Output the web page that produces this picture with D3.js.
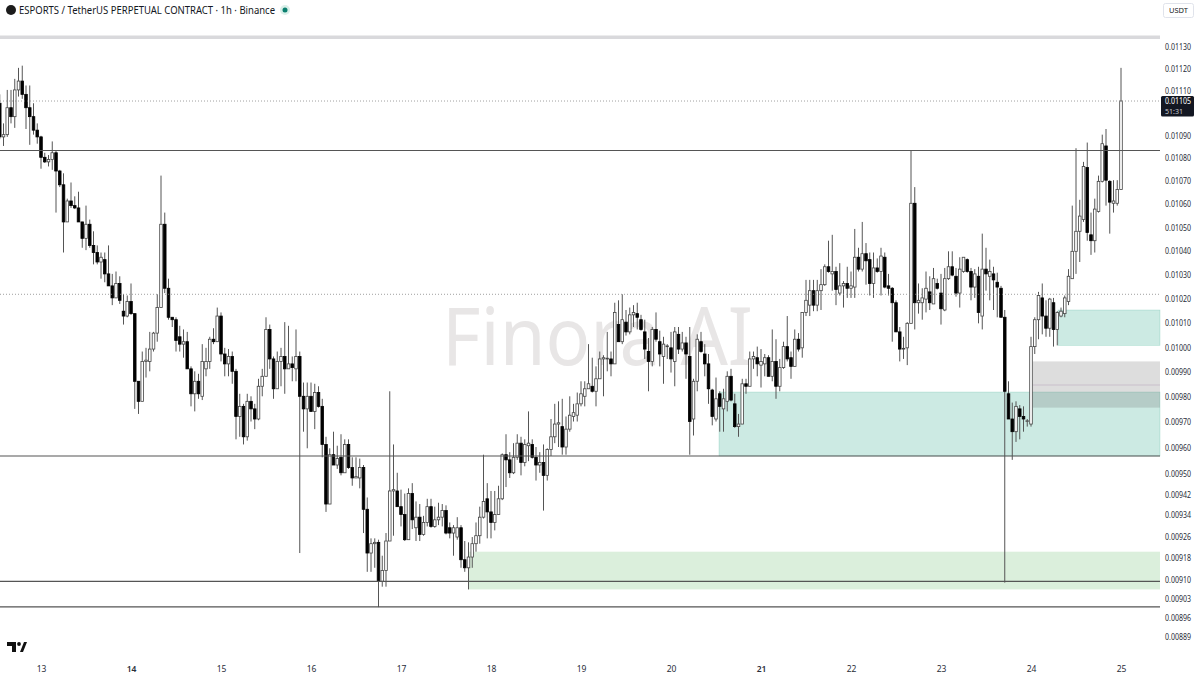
<!DOCTYPE html>
<html>
<head>
<meta charset="utf-8">
<script src="https://cdn.jsdelivr.net/npm/d3@7"></script>
<style>
  html, body { margin: 0; padding: 0; background: #fff; }
  svg { display: block; }
  text { font-family: "Noto Sans", sans-serif; }
</style>
</head>
<body>
<svg id="chart"></svg>
<script>
// prices are in units of 0.00001 USDT, one row per day (first row is the tail of the 12th)
const firstHour = -11;

const opens = [
  1104,1089,1090,1102,1098,1110,1114,1108,1102,1098,1092,
  1089,1080,1078,1079,1082,1074,1068,1052,1061,1059,1058,1052,1045,1051,1042,1039,1035,1036,1030,1025,1020,1026,1014.5,1012.5,
  1018.5,1013.5,986,978,994,994,999,1005.5,1016,1051,1024,1012,1011,1004,1001,1002,991,981,986,980,991,994,1003,1002,
  1012.5,997,993,996,990,972,976,964,978,975,971,984,988,1007,995,983,994,996,991,993,991,996,980,975,
  980,974,981.5,976,961,938,957,953,956,950,961,952,948,948,952,936,919.5,923,923.5,909,913,924,943,943,
  937,934,924.5,942,929,933,926.5,931,937,929.5,932,933,935.5,929,927,925.5,929,917,914,918,923,926,933,940,
  935,931,934,940,957,955,950,956,961.5,954,960.5,961,956,953,954,949,959,964,969,968,960,967,972,972.5,
  977,980,983,984,982,987,995,995,995,993,1009,1002,1010,1006,1013,1013.5,1011,1006,998,994,1007,1002,996,1000,
  999.5,994,1005,999,1001.5,996,971,986,1002,997,993,982.5,971,981,975,978,988,977,968,969,985,984,995,995.5,
  992.5,993,995.5,988,994,984,991.5,1000,995.5,992,1003,999.5,1014,1017,1023,1017,1023,1025.5,1033,1030,1031,1022,1025,1026,
  1024,1024.5,1037,1032,1038.5,1036,1026,1032.5,1031,1037,1025,1024,1018,1006,999,999.5,1009.5,1060,1018,1018,1019.5,1022.5,1017.5,1026,
  1022,1015,1028,1033,1029,1022,1031,1036,1031,1024.5,1029,1012.5,1032,1029,1030,1026.5,1024,1012,981,971,966,975,972,970,
  969,1000,1011,1020,1012.5,1007.5,1018,1007,1012.5,1013.5,1018.5,1028,1039.5,1048,1053,1075.5,1046.5,1044,1056.5,1069.5,1085,1069.5,1060,1060,
  1066
];
const highs = [
  1108,1095,1110,1110,1115,1120,1121,1112,1112,1104,1095,
  1089.5,1082,1081,1087,1083,1074.5,1073,1062,1069,1063,1065,1052,1059,1053,1048,1042,1039,1039,1042,1030,1031,1029,1021.5,1021,
  1026,1013.5,986,998,999.5,1006,1006,1021.5,1072,1056,1028,1012,1012,1008.5,1007,1006,992,990,989,1001,999.5,1004,1007.5,1016,
  1014,999.5,999,998,991,981,977,981,980,977,987,991,1012,1009,996,998,999.5,1010,1008.5,996,1007,998,985.5,985.5,
  985.5,985,984,979,964,959.5,966,960.5,965,963,963,956,956,955.5,953,940.5,925,925,924.5,918.5,927,982,961,950,
  943.5,942,944,946,939,938,933.5,940,940,937,938.5,938,937.5,931,930,933,930,924,923.5,925.5,931,937,957,946,
  943,943,945,957.5,965,958,961.5,965,964,963,974,963,960,958,961,959.5,971,977,978,979,972,980,977,981.5,
  986,986,1001,995.5,992,998,996.5,1006,998,1018,1019,1021.5,1015,1016,1017,1018,1013,1011,1003.5,1008,1014,1006.5,1004,1001,
  1006,1008,1008,1006,1004,1008,987,1005,1006,1001,997,983,987.5,982,983,990,991,981,973,987,987,998,998,1000,
  999,997,996.5,1007,1003,995,1002,1012.5,998,1007,1005.5,1014,1027.5,1027.5,1027.5,1027.5,1032,1034,1044,1046.5,1033,1034.5,1027,1033,
  1031,1049,1041,1052,1043,1039,1039,1036.5,1041,1039,1030,1024.5,1019,1008,1004,1010,1083,1067,1026,1024,1031,1029,1032.5,1028,
  1030,1032.5,1039.5,1039.5,1032.5,1037,1037,1036.5,1032.5,1032,1033,1047,1041,1036,1033,1030.5,1025,1015,986,977.5,978,976.5,976,971,
  1004,1012,1022.5,1026,1019,1020,1020,1014.5,1016,1021,1032,1059,1084,1061.5,1078,1086.5,1056,1062,1072,1090,1092.5,1070,1070,1070,
  1120
];
const lows = [
  1088,1085,1089,1095,1093,1107,1106,1092.5,1085.5,1090,1086,
  1075,1077.5,1076,1074.5,1056,1067,1039,1052,1058,1057.5,1052,1041,1040,1041,1034,1034,1028,1026.5,1025,1017,1020,1017.5,1009,1012,
  1013,975,973,978,987.5,990,998,1002,1016,1022,1011,1008,998,998,995.5,991,976,974,979,978.5,988,991,1001,1002,
  994,988,988,985,963,964,961,962.5,970,967,970.5,980,988,991,979,983,984,981,991,986,986,919.5,966,959.5,
  974,967,975.5,956,935,938,953,951.5,949,950,951.5,945,948,944,927,912.5,912.5,914,899.5,907,907,924,926,937,
  929.5,924,924.5,928.5,924,924,926,929.5,929,929,930,929.5,926.5,925,918.5,924.5,914,912.5,906,914,920,923,932.5,925,
  925,928,934,939.5,944.5,948,949.5,955,949,952.5,954.5,955.5,947,950,935.5,947,956.5,961.5,960,957,957,966,970,970,
  976,976,983,981.5,976,987,980,990,988,993,1002,1001,1004.5,1005,1008,1007,1006.5,995,982,992,1002,992,985,995,
  989.5,984,997,998,987,957,964.5,982,997.5,988,977,968.5,970,966,966,974,978,967.5,964,969,981,984,991,988,
  983.5,988,988,986,979,982,991,994,987,992,998,995.5,1012.5,1012.5,1014.5,1014.5,1015,1025,1030.5,1023,1017,1021,1016,1020,
  1020,1020,1031,1031,1025.5,1021,1020,1030.5,1021,1024,1021,1002,1006,994,995,992.5,1009.5,1007,1013.5,1011,1014,1015,1017.5,1023.5,
  1009,1014.5,1027.5,1029,1020.5,1016,1030.5,1030.5,1019,1020,1009.5,1007,1023,1019,1015,1012,1012,908.5,971,955,962,963,966,968,
  968,997,1003,1005,1004,1004,1000,1000.5,1012,1012,1017,1028,1030,1035,1052,1044,1038,1039,1056,1069,1059,1047,1056,1059,
  1066
];
const closes = [
  1089,1090,1102,1098,1110,1114,1108,1102,1098,1092,1089,
  1080,1078,1079,1082,1074,1068,1052,1061,1059,1058,1052,1045,1051,1042,1039,1035,1037,1030,1025,1020,1026,1019,1012.5,1018.5,
  1013.5,986,978,994,994.5,999,1005.5,1016,1051,1024,1012,1011,1002.5,1001,1002,991,981,986,981,994,994,1003,1002,1012.5,
  997,993,996,990,972,976,964,978,975,971,984,988,1007,995,983,994,996,991,993,991.5,996,980,975,980,
  974,981.5,976,961,938,957,953,955.5,950,961,952,948,948.5,952,936,919.5,923,923.5,909,913,924,943,943.5,937,
  934,924.5,942,932,933,926.5,931,937,929.5,932,933,935.5,927,927,929,929,917,914,918,923,926,933,939,935,
  931,934,940,957,955,950,956,961.5,954,961,961.5,956,953,954,949,959,964,969,969.5,960,967,972.5,973.5,977,
  981,983,985,982,987,995,995.5,995.3,993,1014,1002,1011,1006,1013,1014,1012,1007,999,994,1007,1003,997,1001,1000.3,
  995,1006,999,1001.5,997,970,986,1003,998,993,983,972,979,976,979,988,978.5,968,969,985,984,995,996,993,
  994,995.5,988,994,984,991.5,1000,995,992,1003,999,1014,1019,1023,1017,1023,1025.5,1033,1031,1031,1023.5,1025,1026,1024,
  1025,1037,1032,1038.5,1035.5,1026,1032.5,1031,1037.5,1024.5,1024,1018,1006,999,999.3,1009.5,1060,1018,1019,1020,1024,1018,1028,1024,
  1015.5,1028,1033,1029.5,1022,1032,1037,1031,1024.5,1030,1014,1032,1030,1031,1027.5,1024.5,1012,982,971,966,976,972,971,970.3,
  1000,1011,1021,1012.5,1007.5,1019.5,1007,1014,1014.5,1020,1029,1039.5,1048,1054.5,1076,1047.5,1044,1057.5,1069.5,1086,1070,1060.5,1061,1066,
  1105
];

const dayLabels = ["13", "14", "15", "16", "17", "18", "19", "20", "21", "22", "23", "24", "25"];
const boldDays = ["14", "21"];
const priceTicks = [1130, 1120, 1110, 1090, 1080, 1070, 1060, 1050, 1040, 1030, 1020, 1010, 1000, 990, 980, 970, 960, 950, 942, 934, 926, 918, 910, 903, 896, 889];
const solidLevels = [1083, 956.5, 909, 899.6];
const dottedLevels = [1105, 1021.5];
const ceilingLevel = 1134;
// drawn zones: hour it starts, top price, bottom price
const tealZones = [[180.8, 981.7, 956.5], [271.2, 1015, 1000.5]];
const greenZones = [[113.9, 920, 906]];
const greyZones = [[264.5, 994, 975.5]];
const greyMid = 984.5;
const lastPrice = "0.01105";
const countdown = "51:31";

const width = 1200, height = 675, paneRight = 1160;
const svg = d3.select("#chart").attr("width", width).attr("height", height);

const x = d3.scaleLinear().domain([0, 288]).range([41, 1121]);
const y = d3.scaleLog().domain([889, 1130]).range([636, 46]);

const candles = opens.map((o, i) => ({
  hour: firstHour + i, open: o, high: highs[i], low: lows[i], close: closes[i]
}));

// watermark goes under everything
svg.append("text")
  .attr("x", 442).attr("y", 365)
  .attr("font-size", 80).attr("font-weight", 400)
  .attr("textLength", 311).attr("lengthAdjust", "spacingAndGlyphs")
  .attr("fill", "#e8e6e6")
  .text("Finora AI");

const zoneLayer = svg.append("g");
function addZones(zones, fill, stroke) {
  zoneLayer.selectAll(null).data(zones).enter().append("rect")
    .attr("x", (d) => x(d[0]))
    .attr("y", (d) => y(d[1]))
    .attr("width", (d) => paneRight - x(d[0]))
    .attr("height", (d) => y(d[2]) - y(d[1]))
    .attr("fill", fill)
    .attr("stroke", stroke)
    .attr("stroke-width", 0.6);
}
addZones(greenZones, "rgba(76,175,80,0.2)", "none");
addZones(tealZones, "rgba(0,150,115,0.2)", "rgba(0,150,115,0.25)");
addZones(greyZones, "rgba(100,100,100,0.22)", "none");
zoneLayer.append("line")
  .attr("x1", x(greyZones[0][0])).attr("x2", paneRight)
  .attr("y1", y(greyMid)).attr("y2", y(greyMid))
  .attr("stroke", "#c9bfcc").attr("stroke-width", 1);

// wicks then bodies
const wicks = svg.append("g").attr("stroke", "#555").attr("stroke-width", 1);
wicks.selectAll("line").data(candles).enter().append("line")
  .attr("x1", (d) => x(d.hour)).attr("x2", (d) => x(d.hour))
  .attr("y1", (d) => y(d.high)).attr("y2", (d) => y(d.low));

const bodyWidth = 2.6;
svg.append("g").selectAll("rect").data(candles).enter().append("rect")
  .attr("x", (d) => x(d.hour) - bodyWidth / 2)
  .attr("width", bodyWidth)
  .attr("y", (d) => y(Math.max(d.open, d.close)))
  .attr("height", (d) => Math.max(0.8, Math.abs(y(d.open) - y(d.close))))
  .attr("fill", (d) => (d.close >= d.open ? "#fff" : "#000"))
  .attr("stroke", (d) => (d.close >= d.open ? "#444" : "#000"))
  .attr("stroke-width", 0.8);

// level lines
svg.append("g").selectAll("line").data(solidLevels).enter().append("line")
  .attr("x1", 0).attr("x2", paneRight)
  .attr("y1", (d) => y(d)).attr("y2", (d) => y(d))
  .attr("stroke", "#555").attr("stroke-width", 1.2);
svg.append("g").selectAll("line").data(dottedLevels).enter().append("line")
  .attr("x1", 0).attr("x2", paneRight)
  .attr("y1", (d) => y(d)).attr("y2", (d) => y(d))
  .attr("stroke", "#888").attr("stroke-width", 0.8)
  .attr("stroke-dasharray", "1,2");
svg.append("line")
  .attr("x1", 0).attr("x2", paneRight)
  .attr("y1", y(ceilingLevel)).attr("y2", y(ceilingLevel))
  .attr("stroke", "#d9d9dc").attr("stroke-width", 3.4);

// axes
const yAxis = d3.axisRight(y)
  .tickValues(priceTicks)
  .tickSize(0)
  .tickPadding(5)
  .tickFormat((d) => (d / 1e5).toFixed(5));
const yAxisGroup = svg.append("g").attr("transform", `translate(${paneRight},0.7)`).call(yAxis);
yAxisGroup.select(".domain").remove();
yAxisGroup.selectAll("text")
  .attr("font-size", 8.5)
  .attr("fill", "#2a2e39")
  .attr("textLength", 26)
  .attr("lengthAdjust", "spacingAndGlyphs")
  .style("font-family", '"Noto Sans", sans-serif');

const xAxis = d3.axisBottom(x)
  .tickValues(dayLabels.map((_, i) => i * 24))
  .tickSize(0)
  .tickFormat((d) => dayLabels[d / 24]);
const xAxisGroup = svg.append("g").attr("transform", "translate(0,663)").call(xAxis);
xAxisGroup.select(".domain").remove();
xAxisGroup.selectAll("text")
  .attr("font-size", 8.5)
  .attr("fill", "#2a2e39")
  .attr("font-weight", (d) => (boldDays.includes(dayLabels[d / 24]) ? 600 : 400))
  .style("font-family", '"Noto Sans", sans-serif');

// last price tag
svg.append("rect").attr("x", 1161).attr("y", 96).attr("width", 33).attr("height", 20.5).attr("rx", 1.5).attr("fill", "#131722");
svg.append("text").attr("x", 1165).attr("y", 103.8).attr("font-size", 8).attr("fill", "#fff")
  .attr("textLength", 26).attr("lengthAdjust", "spacingAndGlyphs").text(lastPrice);
svg.append("text").attr("x", 1165).attr("y", 114).attr("font-size", 7.2).attr("fill", "#c9cbd1")
  .attr("textLength", 18).attr("lengthAdjust", "spacingAndGlyphs").text(countdown);

// header
svg.append("circle").attr("cx", 11).attr("cy", 10).attr("r", 5).attr("fill", "#1c1c1c");
svg.append("text").attr("x", 19).attr("y", 14).attr("font-size", 10.5).attr("fill", "#131722")
  .attr("textLength", 256).attr("lengthAdjust", "spacingAndGlyphs")
  .text("ESPORTS / TetherUS PERPETUAL CONTRACT · 1h · Binance");
svg.append("circle").attr("cx", 285).attr("cy", 10).attr("r", 5).attr("fill", "#d9efe9");
svg.append("circle").attr("cx", 285).attr("cy", 10).attr("r", 2.5).attr("fill", "#0b7f6f");
svg.append("rect").attr("x", 1163.5).attr("y", 3.5).attr("width", 30).attr("height", 14).attr("rx", 2)
  .attr("fill", "#fff").attr("stroke", "#e0e3eb");
svg.append("text").attr("x", 1178.5).attr("y", 13).attr("text-anchor", "middle").attr("font-size", 7.5).attr("fill", "#131722").text("USDT");

// TV mark
svg.append("path").attr("d", "M7 642h9v10h-4v-6h-5z M20 652l4-10h3l-4 10z").attr("fill", "#111");
svg.append("circle").attr("cx", 19).attr("cy", 644).attr("r", 1.9).attr("fill", "#111");
</script>
</body>
</html>
